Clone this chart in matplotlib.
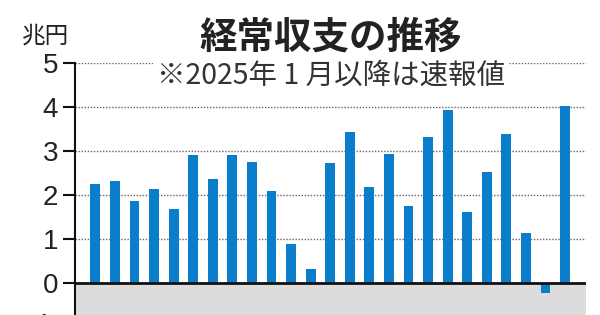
import matplotlib
matplotlib.use("Agg")
import matplotlib.pyplot as plt
import numpy as np

plt.rcParams['font.family'] = ['Noto Sans CJK JP', 'DejaVu Sans']

title = "経常収支の推移"
subtitle = "※2025年 1 月以降は速報値"
unit = "兆円"
values = [2.26, 2.32, 1.85, 2.14, 1.67, 2.91, 2.36, 2.91, 2.74, 2.09, 0.89, 0.30,
          2.72, 3.43, 2.17, 2.93, 1.75, 3.32, 3.94, 1.60, 2.52, 3.39, 1.14, -0.25, 4.04]
yticks = [0, 1, 2, 3, 4, 5]

fig = plt.figure(figsize=(6, 3.15), dpi=100)
ax = fig.add_axes([75/600, 0.0, (586-75)/600, (315-63.5)/315])
ymin = -(315-282.5)/43.84
ax.set_ylim(ymin, 5)
x = np.arange(len(values))
ax.set_xlim(-1.04, len(values) - 1 + 1.07)

ax.axhspan(ymin, 0, color='#dcdcdf', zorder=0, lw=0)
for t in yticks[1:]:
    ax.axhline(t, color='#666666', lw=1.0, ls=(0, (1, 1.2)), zorder=1)
ax.bar(x, values, width=0.5, color='#0a7dcc', zorder=2)
ax.axhline(0, color='#111111', lw=2.0, zorder=3)

for s in ['top', 'right', 'bottom']:
    ax.spines[s].set_visible(False)
ax.spines['left'].set_linewidth(1.5)
ax.spines['left'].set_color('#111111')
ax.set_xticks([])
ax.set_yticks(yticks)
ax.set_yticklabels([str(t) for t in yticks], fontsize=20, family=['Liberation Sans', 'DejaVu Sans'],
                   color='#222222')
ax.tick_params(axis='y', length=9, width=1.5, color='#111111', pad=3)
ax.text(-0.045, -1, "−1", transform=ax.get_yaxis_transform(), ha='right', va='center',
        fontsize=20, family=['Liberation Sans', 'DejaVu Sans'], color='#222222', clip_on=False)

fig.text(331/600, 1 - 37/315, title, ha='center', va='center', fontsize=27, fontweight='bold',
         color='#222222')
fig.text(331/600, 1 - 76/315, subtitle, ha='center', va='center', fontsize=20.5,
         color='#333333', bbox=dict(facecolor='white', edgecolor='none', pad=3), zorder=5)
fig.text(22/600, 1 - 36/315, unit, ha='left', va='center', fontsize=17, color='#222222')

fig.savefig("out.png", dpi=100)
